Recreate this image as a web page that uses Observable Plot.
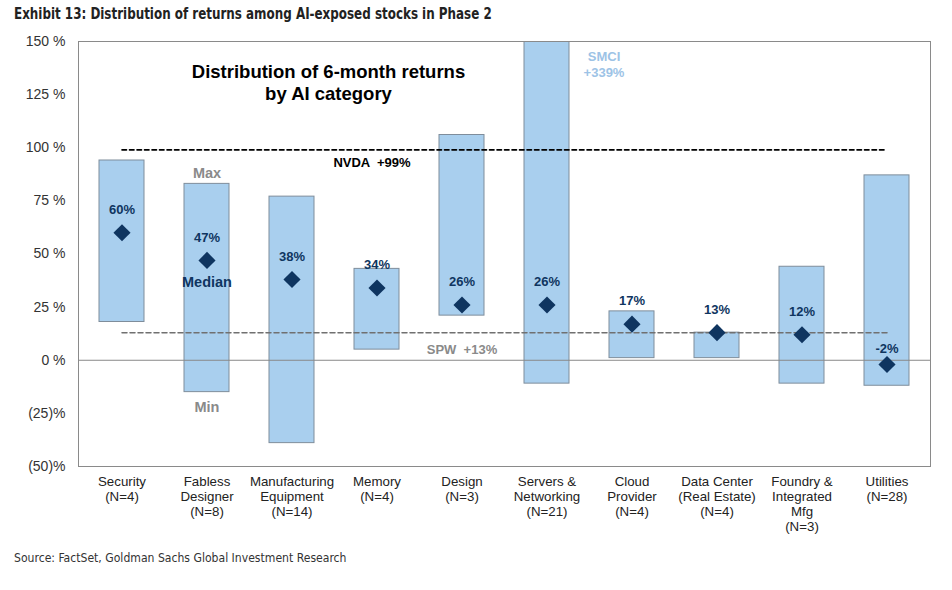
<!DOCTYPE html>
<html>
<head>
<meta charset="utf-8">
<script src="https://cdn.jsdelivr.net/npm/d3@7"></script>
<script src="https://cdn.jsdelivr.net/npm/@observablehq/plot@0.6"></script>
<style>
  body { margin: 0; background: #fff; width: 952px; height: 590px; overflow: hidden; }
  #title { height: 26px; line-height: 28px; padding-left: 14px; font-family: "Liberation Sans Narrow", "DejaVu Sans Condensed", sans-serif; font-weight: bold; font-size: 15.5px; color: #222; white-space: nowrap; }
  #title span { display: inline-block; transform: scaleX(0.855); transform-origin: left center; }
  #chart svg { display: block; }
  #source { height: 40px; line-height: 40px; padding-left: 14px; font-family: "Liberation Sans Narrow", "DejaVu Sans Condensed", sans-serif; font-size: 13px; color: #333; white-space: nowrap; }
  #source span { display: inline-block; transform: scaleX(0.93); transform-origin: left center; }
</style>
</head>
<body>
<div id="title"><span>Exhibit 13: Distribution of returns among AI-exposed stocks in Phase 2</span></div>
<div id="chart"></div>
<div id="source"><span>Source: FactSet, Goldman Sachs Global Investment Research</span></div>
<script>
const categories = ["Security", "Fabless Designer", "Manufacturing Equipment", "Memory", "Design", "Servers & Networking", "Cloud Provider", "Data Center (Real Estate)", "Foundry & Integrated Mfg", "Utilities"];
const tickLabels = ["Security\n(N=4)", "Fabless\nDesigner\n(N=8)", "Manufacturing\nEquipment\n(N=14)", "Memory\n(N=4)", "Design\n(N=3)", "Servers &\nNetworking\n(N=21)", "Cloud\nProvider\n(N=4)", "Data Center\n(Real Estate)\n(N=4)", "Foundry &\nIntegrated\nMfg\n(N=3)", "Utilities\n(N=28)"];
const maxReturn = [94, 83, 77, 43, 106, 339, 23, 13, 44, 87];
const minReturn = [18, -15, -39, 5, 21, -11, 1, 1, -11, -12];
const medianReturn = [60, 47, 38, 34, 26, 26, 17, 13, 12, -2];
const nvdaReturn = 99;
const spwReturn = 13;
const yTicks = [-50, -25, 0, 25, 50, 75, 100, 125, 150];

const data = categories.map((c, i) => ({cat: c, label: tickLabels[i], max: maxReturn[i], min: minReturn[i], median: medianReturn[i]}));
const first = categories[0], last = categories[categories.length - 1];
const navy = "#0f3560";
const font = "Liberation Sans, Arial, sans-serif";

const chart = Plot.plot({
  width: 952,
  height: 512,
  marginTop: 15,
  marginBottom: 72,
  marginLeft: 78,
  marginRight: 22,
  style: {fontFamily: font, background: "#fff"},
  x: {type: "band", domain: categories, paddingInner: 0.47, paddingOuter: 0.235, axis: null},
  y: {domain: [-50, 150], axis: null},
  marks: [
    Plot.barY(data, {x: "cat", y1: "min", y2: "max", fill: "#a9cfee", stroke: "#7f8d9b", strokeWidth: 1, clip: true}),
    Plot.ruleY([0], {stroke: "#888", strokeWidth: 1}),
    Plot.lineY([{x: first, y: nvdaReturn}, {x: last, y: nvdaReturn}], {x: "x", y: "y", stroke: "#000", strokeWidth: 1.6, strokeDasharray: "4.5,3"}),
    Plot.lineY([{x: first, y: spwReturn}, {x: last, y: spwReturn}], {x: "x", y: "y", stroke: "#707070", strokeWidth: 1.5, strokeDasharray: "5,3"}),
    Plot.dot(data, {x: "cat", y: "median", symbol: "diamond2", r: 7.7, fill: navy, stroke: "none"}),
    Plot.text(data.filter(d => d.cat !== last), {x: "cat", y: "median", text: d => `${d.median}%`, dy: -23, fill: navy, fontWeight: "bold", fontSize: 13}),
    Plot.text(data.filter(d => d.cat === last), {x: "cat", y: "median", text: d => `${d.median}%`, dy: -16, fill: navy, fontWeight: "bold", fontSize: 13}),
    Plot.text(data.filter(d => d.cat === "Fabless Designer"), {x: "cat", y: "max", text: () => "Max", dy: -11, fill: "#8a8a8a", fontWeight: "bold", fontSize: 14.5}),
    Plot.text(data.filter(d => d.cat === "Fabless Designer"), {x: "cat", y: "median", text: () => "Median", dy: 22, fill: navy, fontWeight: "bold", fontSize: 14.5}),
    Plot.text(data.filter(d => d.cat === "Fabless Designer"), {x: "cat", y: "min", text: () => "Min", dy: 15, fill: "#8a8a8a", fontWeight: "bold", fontSize: 14.5}),
    Plot.text([{x: "Memory", y: nvdaReturn}], {x: "x", y: "y", text: () => "NVDA  +99%", dx: -5, dy: 13, fill: "#000", fontWeight: "bold", fontSize: 13}),
    Plot.text([{x: "Design", y: spwReturn}], {x: "x", y: "y", text: () => "SPW  +13%", dy: 17, fill: "#8a8a8a", fontWeight: "bold", fontSize: 13}),
    Plot.text(data.filter(d => d.cat === "Servers & Networking"), {x: "cat", y: () => 150, text: d => `SMCI\n+${d.max}%`, dx: 57, dy: 8, lineAnchor: "top", lineHeight: 1.25, fill: "#9dc3e6", fontWeight: "bold", fontSize: 13}),
    Plot.text(["Distribution of 6-month returns\nby AI category"], {frameAnchor: "top-left", text: d => d, dx: 250, dy: 21, textAnchor: "middle", lineAnchor: "top", lineHeight: 1.2, fill: "#000", fontWeight: "bold", fontSize: 18.5}),
    Plot.text(data, {x: "cat", frameAnchor: "bottom", text: "label", lineAnchor: "top", dy: 8.5, lineHeight: 1.13, fill: "#222", fontSize: 13.3}),
    Plot.axisY({ticks: yTicks, tickSize: 0, tickPadding: 13, tickFormat: d => d < 0 ? `(${-d})%` : `${d} %`, fontSize: 14, fill: "#333", label: null}),
    Plot.frame({stroke: "#8a8a8a", strokeWidth: 1})
  ]
});
document.getElementById("chart").appendChild(chart);
</script>
</body>
</html>
